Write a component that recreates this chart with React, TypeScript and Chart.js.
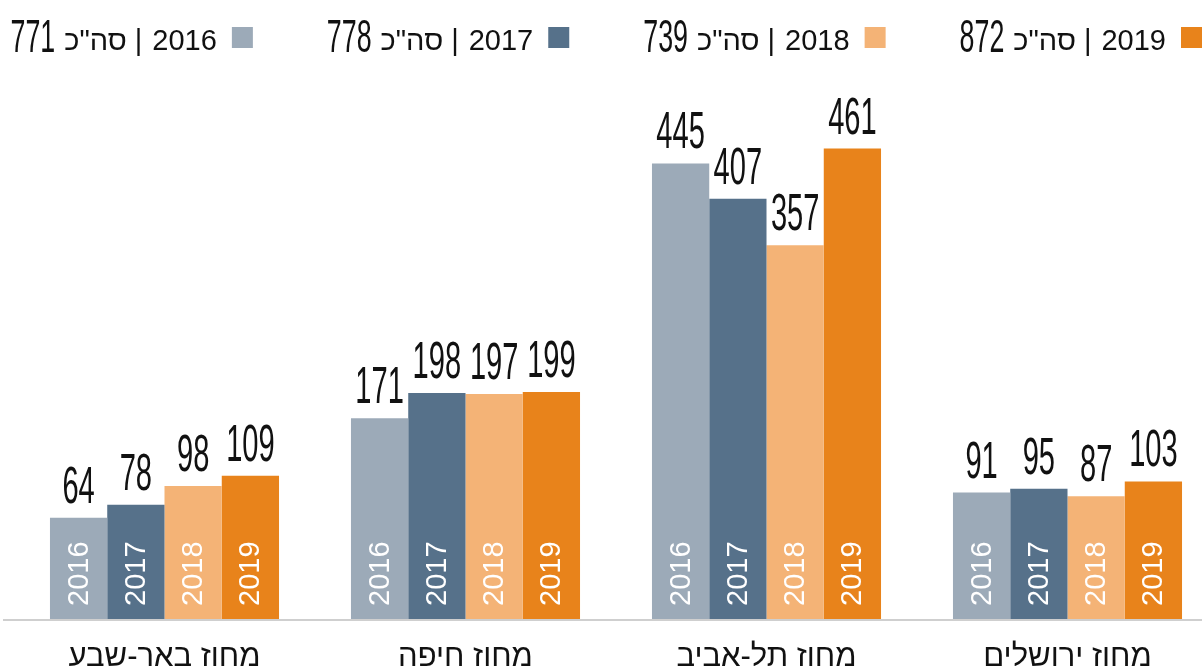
import React, { useEffect, useRef } from "react";
import { Chart, registerables } from "chart.js";

Chart.register(...registerables);

const categories = ["מחוז באר-שבע", "מחוז חיפה", "מחוז תל-אביב", "מחוז ירושלים"];
const years = ["2016", "2017", "2018", "2019"];
const totals = [771, 778, 739, 872];
const values2016 = [64, 171, 445, 91];
const values2017 = [78, 198, 407, 95];
const values2018 = [98, 197, 357, 87];
const values2019 = [109, 199, 461, 103];
const seriesValues = [values2016, values2017, values2018, values2019];
const colors = ["#9caab8", "#56718a", "#f4b376", "#e8831b"];
const totalWord = 'סה"כ';

const AXIS_BASE = -45;
const AXIS_MAX = 525;

const CANVAS_W = 1222;
const CANVAS_H = 666;
const BASE_FONT = '"Liberation Sans", Arial, sans-serif';

function drawCondensed(
  ctx: CanvasRenderingContext2D,
  text: string,
  x: number,
  y: number,
  size: number,
  sx: number,
  align: CanvasTextAlign
) {
  ctx.save();
  ctx.translate(x, y);
  ctx.scale(sx, 1);
  ctx.font = `${size}px ${BASE_FONT}`;
  ctx.textAlign = align;
  ctx.textBaseline = "alphabetic";
  ctx.fillText(text, 0, 0);
  ctx.restore();
}

function condensedWidth(ctx: CanvasRenderingContext2D, text: string, size: number, sx: number) {
  ctx.save();
  ctx.font = `${size}px ${BASE_FONT}`;
  const w = ctx.measureText(text).width * sx;
  ctx.restore();
  return w;
}

const decorPlugin = {
  id: "decor",
  beforeDatasetsDraw(chart: any) {
    const ctx: CanvasRenderingContext2D = chart.ctx;
    const y = chart.scales.y.getPixelForValue(AXIS_BASE);
    ctx.save();
    ctx.strokeStyle = "#cfcfcf";
    ctx.lineWidth = 2;
    ctx.beginPath();
    ctx.moveTo(3, y + 1);
    ctx.lineTo(chart.width, y + 1);
    ctx.stroke();
    ctx.restore();
  },
  afterDatasetsDraw(chart: any) {
    const ctx: CanvasRenderingContext2D = chart.ctx;
    const base = chart.scales.y.getPixelForValue(AXIS_BASE);
    chart.data.datasets.forEach((ds: any, di: number) => {
      const meta = chart.getDatasetMeta(di);
      meta.data.forEach((bar: any, i: number) => {
        const v = ds.data[i];
        ctx.fillStyle = "#111111";
        drawCondensed(ctx, String(v), bar.x, bar.y - 15, 51, 0.57, "center");
        ctx.save();
        ctx.translate(bar.x, base - 13);
        ctx.rotate(-Math.PI / 2);
        ctx.fillStyle = "#ffffff";
        ctx.font = `29px ${BASE_FONT}`;
        ctx.textAlign = "left";
        ctx.textBaseline = "middle";
        ctx.fillText(ds.label, 0, 1);
        ctx.restore();
      });
    });

    // legend, laid out right-to-left
    let right = 1202;
    const sq = 21;
    for (let k = years.length - 1; k >= 0; k--) {
      ctx.save();
      ctx.fillStyle = colors[k];
      ctx.fillRect(right - sq, 27, sq, sq);
      let x = right - sq - 15;
      ctx.fillStyle = "#111111";
      ctx.font = `29px ${BASE_FONT}`;
      ctx.textBaseline = "alphabetic";
      ctx.textAlign = "right";
      ctx.fillText(years[k], x, 50);
      x -= ctx.measureText(years[k]).width + 10;
      ctx.fillText("|", x, 50);
      x -= ctx.measureText("|").width + 8;
      ctx.fillText(totalWord, x, 50);
      x -= ctx.measureText(totalWord).width + 9;
      drawCondensed(ctx, String(totals[k]), x, 52, 47, 0.57, "right");
      x -= condensedWidth(ctx, String(totals[k]), 47, 0.57);
      ctx.restore();
      right = x - 74;
    }
  },
};

export default function App() {
  const ref = useRef<HTMLCanvasElement | null>(null);
  useEffect(() => {
    if (!ref.current) return;
    const chart = new Chart(ref.current, {
      type: "bar",
      data: {
        labels: categories,
        datasets: years.map((yr, k) => ({
          label: yr,
          data: seriesValues[k],
          base: AXIS_BASE,
          backgroundColor: colors[k],
          borderWidth: 0,
          categoryPercentage: 0.761,
          barPercentage: 1,
        })),
      },
      options: {
        responsive: false,
        animation: false,
        devicePixelRatio: 1,
        layout: { padding: { left: 14, right: 4, top: 89, bottom: 0 } },
        plugins: {
          legend: { display: false },
          tooltip: { enabled: false },
        },
        scales: {
          x: {
            grid: { display: false, drawTicks: false },
            border: { display: false },
            ticks: {
              color: "#111111",
              padding: 20,
              font: { family: BASE_FONT, size: 31 },
            },
            afterFit: (scale: any) => {
              scale.height = 47;
            },
          },
          y: {
            display: false,
            min: AXIS_BASE,
            max: AXIS_MAX,
          },
        },
      },
      plugins: [decorPlugin],
    });
    return () => chart.destroy();
  }, []);
  return (
    <div
      style={{
        position: "fixed",
        left: 0,
        top: 0,
        width: 1202,
        height: 666,
        overflow: "hidden",
        background: "#ffffff",
      }}
    >
      <canvas ref={ref} width={CANVAS_W} height={CANVAS_H} style={{ display: "block" }} />
    </div>
  );
}
